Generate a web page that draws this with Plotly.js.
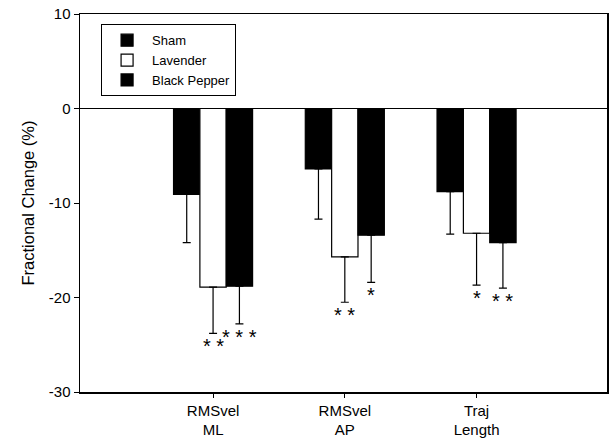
<!DOCTYPE html>
<html>
<head>
<meta charset="utf-8">
<script src="https://cdn.plot.ly/plotly-3.0.1.min.js"></script>
<style>html,body{margin:0;padding:0;background:#fff;}#chart{width:612px;height:445px;}</style>
</head>
<body>
<div id="chart"></div>
<script>
const categories = ["RMSvel<br>ML", "RMSvel<br>AP", "Traj<br>Length"];
const seriesNames = ["Sham", "Lavender", "Black Pepper"];
const sham = [-9.1, -6.4, -8.8];
const shamErr = [5.1, 5.3, 4.5];
const lavender = [-18.9, -15.7, -13.2];
const lavenderErr = [4.9, 4.8, 5.5];
const blackPepper = [-18.8, -13.4, -14.2];
const blackPepperErr = [4.0, 5.0, 4.8];
const shamSig = ["", "", ""];
const lavenderSig = ["**", "**", "*"];
const blackPepperSig = ["***", "*", "**"];
const yTickVals = [10, 0, -10, -20, -30];
const yTickText = ["10", "0", "-10", "-20", "-30"];

const xs = categories.map((c, i) => i);
const values = [sham, lavender, blackPepper];
const errs = [shamErr, lavenderErr, blackPepperErr];
const sigs = [shamSig, lavenderSig, blackPepperSig];
const fills = ["#000000", "#ffffff", "#000000"];

const traces = values.map((v, s) => ({
  type: "bar",
  name: seriesNames[s],
  x: xs,
  y: v,
  marker: {color: fills[s], line: {color: "#000", width: 1.2}},
  error_y: {type: "data", symmetric: false, array: v.map(() => 0), arrayminus: errs[s], color: "#000", thickness: 1.2, width: 4},
  hoverinfo: "none"
}));

const nS = values.length, groupW = 0.6, barW = groupW / nS;
const annotations = [];
values.forEach((v, s) => {
  v.forEach((val, i) => {
    if (!sigs[s][i]) return;
    annotations.push({
      x: xs[i] - groupW / 2 + barW * (s + 0.5),
      y: val - errs[s][i],
      xref: "x", yref: "y",
      text: sigs[s][i].split("").join(" "),
      showarrow: false, yanchor: "top", yshift: 0,
      font: {size: 20, color: "#000", family: "Liberation Sans, Arial, sans-serif"}
    });
  });
});

const layout = {
  width: 612, height: 445,
  margin: {l: 80, r: 5, t: 14, b: 53},
  paper_bgcolor: "#fff", plot_bgcolor: "#fff",
  font: {family: "Liberation Sans, Arial, sans-serif", color: "#000", size: 15},
  barmode: "group", bargap: 0.4, bargroupgap: 0,
  showlegend: true,
  legend: {x: 0.04, y: 0.973, xanchor: "left", yanchor: "top", bgcolor: "#fff", bordercolor: "#000", borderwidth: 1, font: {size: 13}, tracegroupgap: 0, itemwidth: 40},
  xaxis: {
    range: [-1.01, 2.99], tickvals: xs, ticktext: categories,
    showline: true, linecolor: "#000", linewidth: 1.5, mirror: true,
    ticks: "outside", ticklen: 4, tickcolor: "#000", showgrid: false, zeroline: false,
    tickfont: {size: 15}
  },
  yaxis: {
    range: [-30, 10], tickvals: yTickVals, ticktext: yTickText,
    showline: true, linecolor: "#000", linewidth: 1.5, mirror: true,
    ticks: "outside", ticklen: 5, tickcolor: "#000", showgrid: false,
    zeroline: true, zerolinecolor: "#000", zerolinewidth: 1.5,
    tickfont: {size: 15},
    title: {text: "Fractional Change (%)", font: {size: 16.5}, standoff: 10}
  },
  annotations: annotations
};

Plotly.newPlot("chart", traces, layout, {displayModeBar: false, staticPlot: true});
</script>
</body>
</html>
